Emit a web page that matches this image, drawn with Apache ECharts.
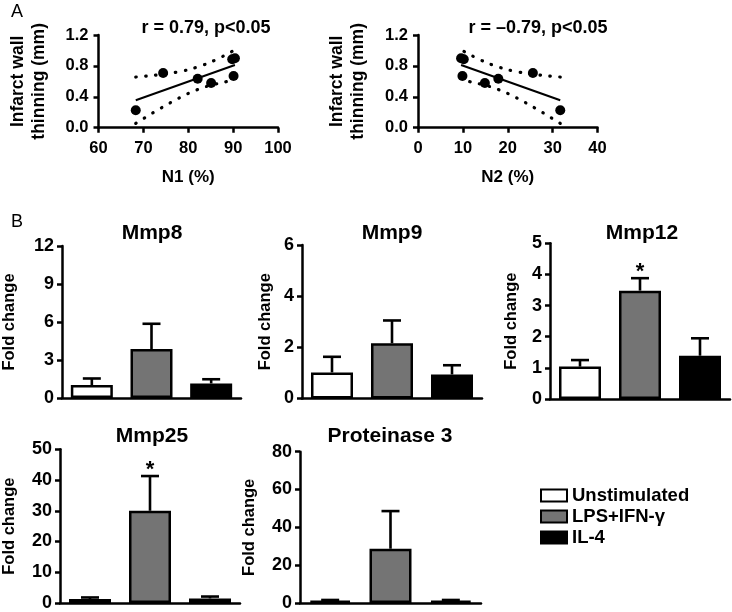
<!DOCTYPE html>
<html><head><meta charset="utf-8">
<script src="https://cdn.jsdelivr.net/npm/echarts@6/dist/echarts.min.js"></script>
<style>html,body{margin:0;padding:0;background:#fff}#c{width:732px;height:612px}</style>
</head><body><div id="c"></div>
<script>
// ---------- Panel A data ----------
const n1X = [68.3, 74.4, 82.1, 85.1, 89.8, 90.4, 90.1];
const n2X = [31.7, 25.6, 17.9, 14.9, 10.2, 9.6, 9.9];
const thinY = [0.225, 0.708, 0.634, 0.579, 0.885, 0.90, 0.669];
const n1FitX = [68.3, 90.4];
const n1FitY = [0.356, 0.811];
const n2FitX = [31.7, 9.6];
const n2FitY = [0.356, 0.811];
const n1BandX = [68.3, 72, 76, 80, 84, 88, 90.4];
const n2BandX = [31.7, 28, 24, 20, 16, 12, 9.6];
const bandUpper = [0.656, 0.676, 0.705, 0.751, 0.825, 0.932, 1.008];
const bandLower = [0.056, 0.188, 0.323, 0.443, 0.533, 0.590, 0.614];

// ---------- Panel B data ----------
const groups = ['Unstimulated', 'LPS+IFN-γ', 'IL-4'];
const groupColors = ['#ffffff', '#747474', '#000000'];
const mmp8Mean = [1.02, 3.87, 1.15];
const mmp8Sem = [0.52, 1.99, 0.33];
const mmp9Mean = [1.02, 2.16, 0.94];
const mmp9Sem = [0.61, 0.89, 0.36];
const mmp12Mean = [1.04, 3.48, 1.39];
const mmp12Sem = [0.21, 0.40, 0.56];
const mmp25Mean = [1.3, 30.0, 1.5];
const mmp25Sem = [0.5, 11.3, 0.6];
const prot3Mean = [1.2, 28.7, 1.2];
const prot3Sem = [0.4, 19.9, 0.4];
const mmp8Sig = [0, 0, 0];
const mmp9Sig = [0, 0, 0];
const mmp12Sig = [0, 1, 0];
const mmp25Sig = [0, 1, 0];
const prot3Sig = [0, 0, 0];

const FF = '"Liberation Sans", Arial, sans-serif';
const chart = echarts.init(document.getElementById('c'), null, {renderer: 'canvas'});

const axisLine = {lineStyle: {color: '#000', width: 2.5}};
const axisTick = {length: 5, lineStyle: {color: '#000', width: 2.5}};
const lbl = (extra) => Object.assign({color: '#000', fontWeight: 'bold', fontSize: 18, fontFamily: FF}, extra || {});

const grids = [
  {left: 98.5, top: 35, width: 179.5, height: 92.7},
  {left: 418, top: 35, width: 179.5, height: 92.7},
  {left: 62, top: 246, width: 179, height: 152},
  {left: 302, top: 245, width: 180, height: 153.5},
  {left: 550, top: 243.3, width: 180, height: 155.7},
  {left: 59, top: 449.3, width: 181, height: 154},
  {left: 300, top: 451.7, width: 181, height: 151.6}
];

const xAxes = [], yAxes = [], series = [];

// Panel A axes
[[60, 100, 'N1 (%)'], [0, 40, 'N2 (%)']].forEach((a, i) => {
  xAxes.push({gridIndex: i, type: 'value', min: a[0], max: a[1], interval: 10,
    axisLine, axisTick: Object.assign({}, axisTick, {length: 5}), splitLine: {show: false},
    axisLabel: lbl({margin: 12, fontSize: 16.5}),
    name: a[2], nameLocation: 'middle', nameGap: 41, nameTextStyle: lbl({fontSize: 17})});
  yAxes.push({gridIndex: i, type: 'value', min: 0, max: 1.2, interval: 0.4,
    axisLine: Object.assign({show: true}, axisLine), axisTick: Object.assign({show: true}, axisTick), splitLine: {show: false},
    axisLabel: lbl({margin: 10, fontSize: 16.5, formatter: v => v.toFixed(1)}),
    name: 'Infarct wall\nthinning (mm)', nameLocation: 'middle', nameRotate: 90, nameGap: 49,
    nameTextStyle: lbl({fontSize: 17.5, lineHeight: 21})});
});

const scatterSets = [
  {x: n1X, fx: n1FitX, fy: n1FitY, bx: n1BandX},
  {x: n2X, fx: n2FitX, fy: n2FitY, bx: n2BandX}
];
scatterSets.forEach((s, i) => {
  series.push({type: 'line', xAxisIndex: i, yAxisIndex: i, symbol: 'none', silent: true,
    lineStyle: {color: '#000', width: 2}, data: s.fx.map((x, k) => [x, s.fy[k]])});
  [bandUpper, bandLower].forEach(b => {
    series.push({type: 'line', xAxisIndex: i, yAxisIndex: i, symbol: 'none', silent: true, smooth: 0.3,
      lineStyle: {color: '#000', width: 3.2, type: [0.5, 9.5], cap: 'round'},
      data: s.bx.map((x, k) => [x, b[k]])});
  });
  series.push({type: 'scatter', xAxisIndex: i, yAxisIndex: i, symbol: 'circle', symbolSize: 10,
    itemStyle: {color: '#000', opacity: 1}, data: s.x.map((x, k) => [x, thinY[k]])});
});

// Panel B
const barSets = [
  {mean: mmp8Mean, sem: mmp8Sem, sig: mmp8Sig, max: 12, interval: 3, gap: 44},
  {mean: mmp9Mean, sem: mmp9Sem, sig: mmp9Sig, max: 6, interval: 2, gap: 28},
  {mean: mmp12Mean, sem: mmp12Sem, sig: mmp12Sig, max: 5, interval: 1, gap: 30},
  {mean: mmp25Mean, sem: mmp25Sem, sig: mmp25Sig, max: 50, interval: 10, gap: 42},
  {mean: prot3Mean, sem: prot3Sem, sig: prot3Sig, max: 80, interval: 20, gap: 42}
];

function errRender(params, api) {
  const x = api.value(0), m = api.value(1), u = api.value(2), s = api.value(3);
  const p0 = api.coord([x, m]);
  const p1 = api.coord([x, u]);
  const half = 9;
  const st = {stroke: '#000', lineWidth: 2.6};
  const children = [
    {type: 'line', shape: {x1: p0[0], y1: p0[1], x2: p1[0], y2: p1[1]}, style: st},
    {type: 'line', shape: {x1: p1[0] - half, y1: p1[1], x2: p1[0] + half, y2: p1[1]}, style: st}
  ];
  if (s) {
    children.push({type: 'text', x: p1[0], y: p1[1] - 6,
      style: {text: '*', align: 'center', verticalAlign: 'middle', fill: '#000',
        font: 'bold 22px ' + FF}});
  }
  return {type: 'group', children};
}

barSets.forEach((b, j) => {
  const gi = j + 2;
  xAxes.push({gridIndex: gi, type: 'category', data: groups,
    axisLine, axisTick: {alignWithLabel: true, length: 6, lineStyle: {color: '#000', width: 2.5}},
    axisLabel: {show: false}});
  yAxes.push({gridIndex: gi, type: 'value', min: 0, max: b.max, interval: b.interval,
    axisLine: Object.assign({show: true}, axisLine), axisTick: Object.assign({show: true}, axisTick),
    splitLine: {show: false}, axisLabel: lbl({margin: 8}),
    name: 'Fold change', nameLocation: 'middle', nameRotate: 90, nameGap: b.gap,
    nameTextStyle: lbl({fontSize: 16.5})});
  groups.forEach((g, k) => {
    series.push({type: 'bar', name: g, xAxisIndex: gi, yAxisIndex: gi, barWidth: 42, barGap: '-100%',
      itemStyle: {color: groupColors[k], borderColor: '#000', borderWidth: 2.5},
      data: groups.map((c, i) => i === k ? b.mean[i] : '-')});
  });
  series.push({type: 'custom', xAxisIndex: gi, yAxisIndex: gi, renderItem: errRender, z: 5,
    data: b.mean.map((m, i) => [i, m, m + b.sem[i], b.sig[i]])});
});

const textEl = (t, x, y, size, weight) => ({type: 'text', x, y,
  style: {text: t, align: 'center', verticalAlign: 'middle', fill: '#000',
    font: (weight || 'bold') + ' ' + size + 'px ' + FF}});

chart.setOption({
  animation: false,
  backgroundColor: '#fff',
  grid: grids,
  xAxis: xAxes,
  yAxis: yAxes,
  series,
  legend: {orient: 'vertical', left: 540, top: 486, itemWidth: 26, itemHeight: 12, itemGap: 2,
    icon: 'rect', padding: 0, data: groups, selectedMode: false,
    textStyle: {color: '#000', fontWeight: 'bold', fontSize: 18.5, fontFamily: FF}},
  graphic: [
    textEl('A', 17, 12, 18, 'normal'),
    textEl('r = 0.79, p<0.05', 206, 28, 18),
    textEl('r = –0.79, p<0.05', 538, 28, 18),
    textEl('B', 17, 222, 18, 'normal'),
    textEl('Mmp8', 152, 233, 21),
    textEl('Mmp9', 392, 233, 21),
    textEl('Mmp12', 642, 233, 21),
    textEl('Mmp25', 152, 436, 21),
    textEl('Proteinase 3', 390, 436, 21)
  ]
});
</script></body></html>
